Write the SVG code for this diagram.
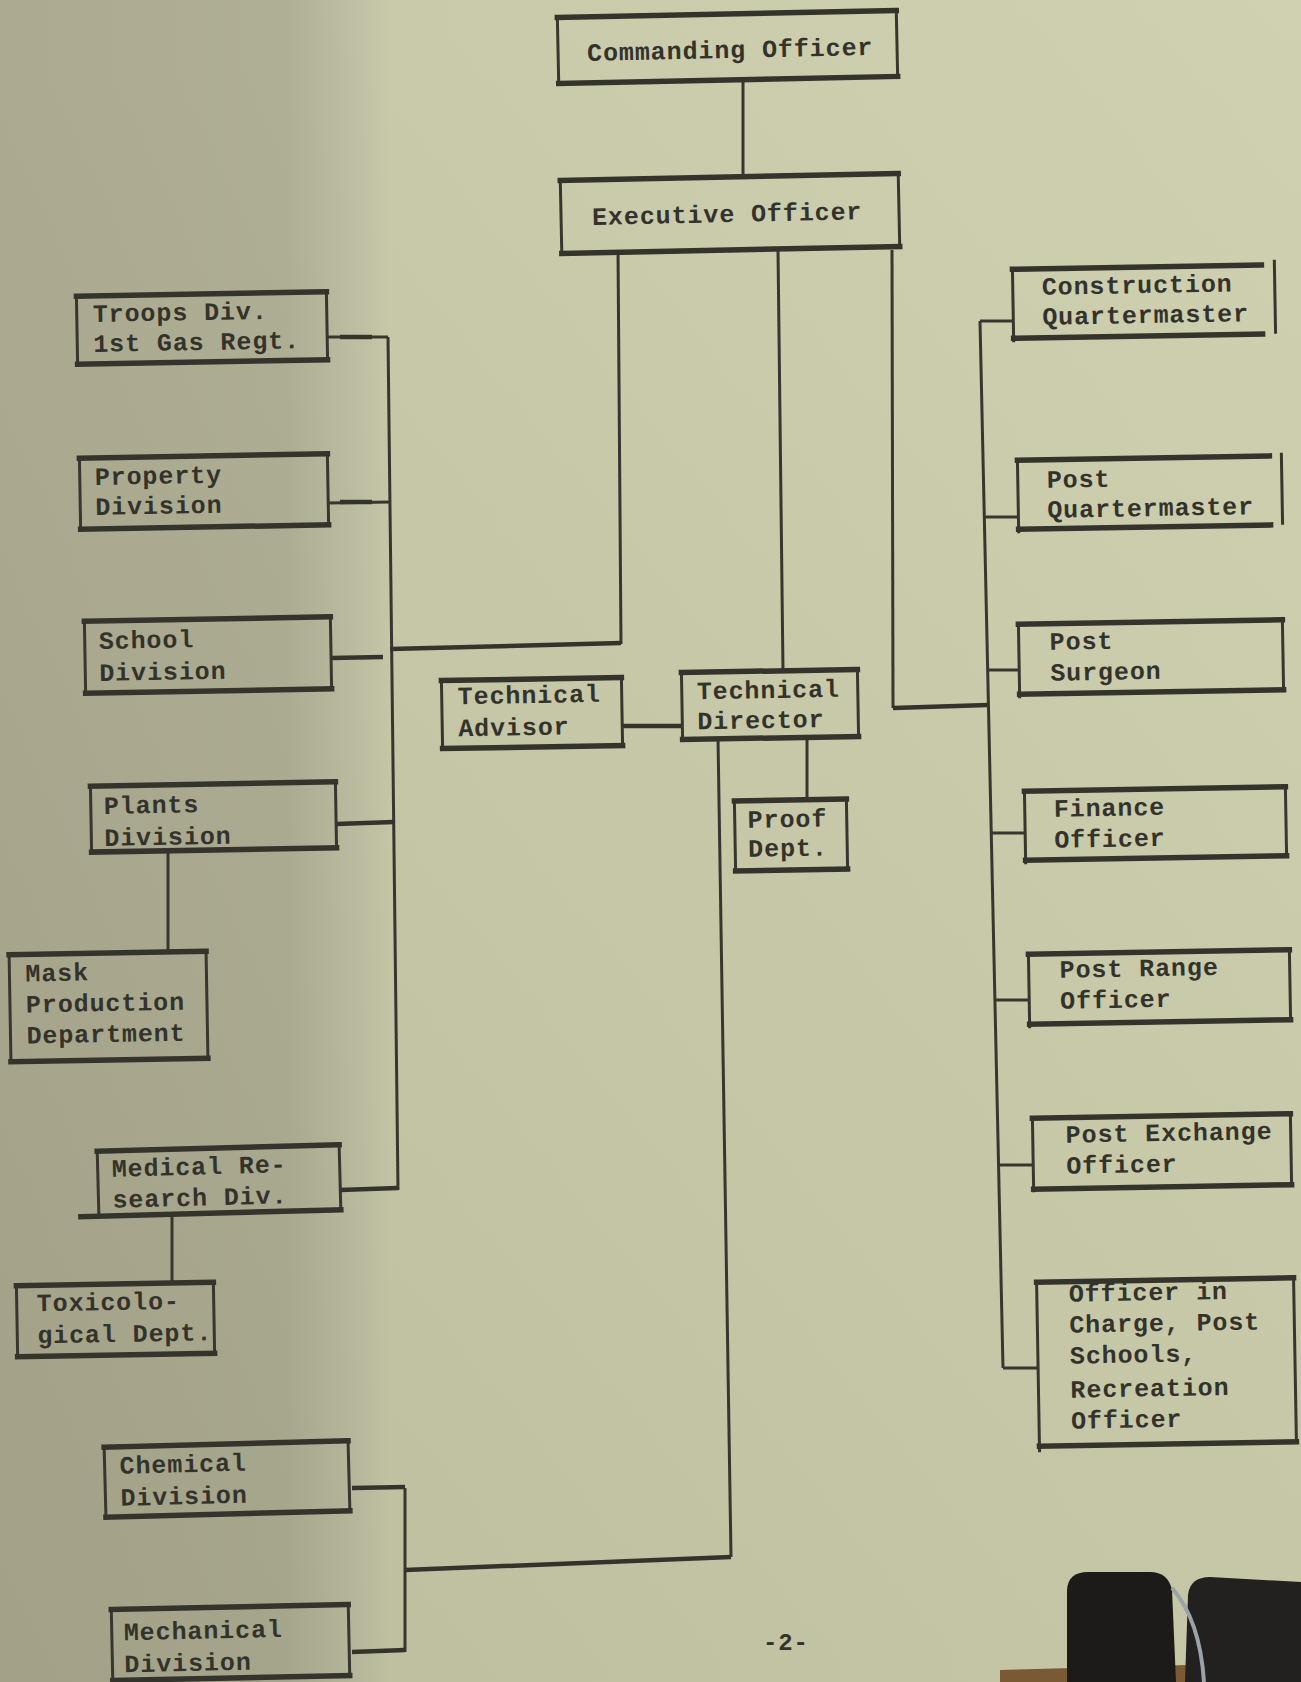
<svg xmlns="http://www.w3.org/2000/svg" width="1301" height="1682" viewBox="0 0 1301 1682">
<defs>
<linearGradient id="paper" x1="0" y1="0" x2="1" y2="0">
<stop offset="0" stop-color="#a9a88d"/>
<stop offset="0.22" stop-color="#acac91"/>
<stop offset="0.265" stop-color="#b9ba9d"/>
<stop offset="0.3" stop-color="#c6c8a7"/>
<stop offset="1" stop-color="#cdcfae"/>
</linearGradient>
<linearGradient id="vshade" x1="0" y1="0" x2="0" y2="1">
<stop offset="0" stop-color="#ffffff" stop-opacity="0.04"/>
<stop offset="1" stop-color="#000000" stop-opacity="0.04"/>
</linearGradient>
<style>
.side{fill:none;stroke:#38372f;stroke-width:3}
.edge{fill:none;stroke:#35342c;stroke-width:5.5;stroke-linecap:square}
.con{fill:none;stroke:#38372f;stroke-width:3}
.thick{fill:none;stroke:#35342c;stroke-width:4.5}
text{font-family:"Liberation Mono","DejaVu Sans Mono",monospace;font-weight:bold;font-size:25px;letter-spacing:0.9px;fill:#34332b}
</style>
</defs>
<rect x="0" y="0" width="1301" height="1682" fill="url(#paper)"/>
<rect x="0" y="0" width="1301" height="1682" fill="url(#vshade)"/>
<!-- desk and clip -->
<path d="M1000 1670 L1301 1662 L1301 1682 L1000 1682 Z" fill="#7a5a34"/>
<g id="clip">
<path d="M1067 1682 L1067 1590 Q1068 1572 1088 1572 L1150 1572 Q1168 1572 1172 1590 L1176 1682 Z" fill="#1c1b1a"/>
<path d="M1185 1682 L1188 1595 Q1190 1577 1210 1577 L1301 1582 L1301 1682 Z" fill="#222120"/>
<path d="M1172 1588 Q1200 1620 1204 1682" fill="none" stroke="#9aa3a8" stroke-width="4"/>
</g>

<g id="connectors">
<path class="con" d="M743 80 L743 177"/>
<path class="con" d="M618 250 L621 644"/>
<path class="thick" d="M621 643 L390 649"/>
<path class="con" d="M778 250 L783 671"/>
<path class="con" d="M892 250 L893 708"/>
<path class="thick" d="M893 708 L988 705"/>
<path class="con" d="M388 337 L398 1190"/>
<path class="con" d="M327 337 L388 337"/>
<path class="thick" d="M340 337 L372 337"/>
<path class="con" d="M328 503 L390 502"/>
<path class="thick" d="M340 502 L372 502"/>
<path class="thick" d="M331 658 L383 657"/>
<path class="thick" d="M336 824 L394 822"/>
<path class="thick" d="M340 1190 L398 1188"/>
<path class="con" d="M168 850 L168 953"/>
<path class="con" d="M172 1213 L172 1284"/>
<path class="thick" d="M622 726 L682 726"/>
<path class="con" d="M807 738 L807 800"/>
<path class="con" d="M718 738 L731 1557"/>
<path class="thick" d="M731 1557 L405 1570"/>
<path class="con" d="M405 1488 L405 1652"/>
<path class="thick" d="M352 1488 L405 1487"/>
<path class="thick" d="M352 1652 L405 1650"/>
<path class="con" d="M980 321 L1003 1368"/>
<path class="con" d="M980 321 L1013 321"/>
<path class="con" d="M984 517 L1018 517"/>
<path class="con" d="M988 670 L1019 670"/>
<path class="con" d="M991 833 L1025 833"/>
<path class="con" d="M995 1000 L1029 1000"/>
<path class="con" d="M998 1165 L1033 1165"/>
<path class="con" d="M1003 1368 L1038 1368"/>
</g>

<g id="commanding-officer" transform="rotate(-1.2 727 47)">
<path class="side" d="M558 14 L558 80 M897 14 L897 80"/>
<path class="edge" d="M558 14 L897 14 M558 80 L897 80"/>
<text x="587" y="58">Commanding Officer</text>
</g>
<g id="executive-officer" transform="rotate(-1.2 730 213)">
<path class="side" d="M561 177 L561 250 M899 177 L899 250"/>
<path class="edge" d="M561 177 L899 177 M561 250 L899 250"/>
<text x="592" y="222">Executive Officer</text>
</g>
<g id="troops-div" transform="rotate(-1 202 328)">
<path class="side" d="M77 294 L77 362 M327 294 L327 362"/>
<path class="edge" d="M77 294 L327 294 M77 362 L327 362"/>
<text x="93" y="320">Troops Div.</text>
<text x="93" y="350">1st Gas Regt.</text>
</g>
<g id="property-division" transform="rotate(-1 204 491)">
<path class="side" d="M80 456 L80 527 M328 456 L328 527"/>
<path class="edge" d="M80 456 L328 456 M80 527 L328 527"/>
<text x="95" y="483">Property</text>
<text x="95" y="513">Division</text>
</g>
<g id="school-division" transform="rotate(-1 208 655)">
<path class="side" d="M85 619 L85 691 M331 619 L331 691"/>
<path class="edge" d="M85 619 L331 619 M85 691 L331 691"/>
<text x="99" y="647">School</text>
<text x="99" y="679">Division</text>
</g>
<g id="plants-division" transform="rotate(-1 213 817)">
<path class="side" d="M91 784 L91 850 M336 784 L336 850"/>
<path class="edge" d="M91 784 L336 784 M91 850 L336 850"/>
<text x="104" y="812">Plants</text>
<text x="104" y="844">Division</text>
</g>
<g id="mask-production" transform="rotate(-1 108 1006)">
<path class="side" d="M10 953 L10 1060 M207 953 L207 1060"/>
<path class="edge" d="M10 953 L207 953 M10 1060 L207 1060"/>
<text x="26" y="980">Mask</text>
<text x="26" y="1011">Production</text>
<text x="26" y="1042">Department</text>
</g>
<g id="medical-research" transform="rotate(-1.5 219 1180)">
<path class="side" d="M98 1148 L98 1213 M340 1148 L340 1213"/>
<path class="edge" d="M98 1148 L340 1148 M80 1213 L340 1213"/>
<text x="112" y="1174">Medical Re-</text>
<text x="112" y="1205">search Div.</text>
</g>
<g id="toxicological-dept" transform="rotate(-1 115 1319)">
<path class="side" d="M17 1284 L17 1355 M214 1284 L214 1355"/>
<path class="edge" d="M17 1284 L214 1284 M17 1355 L214 1355"/>
<text x="37" y="1310">Toxicolo-</text>
<text x="37" y="1342">gical Dept.</text>
</g>
<g id="chemical-division" transform="rotate(-1.5 227 1479)">
<path class="side" d="M105 1444 L105 1514 M349 1444 L349 1514"/>
<path class="edge" d="M105 1444 L349 1444 M105 1514 L349 1514"/>
<text x="120" y="1471">Chemical</text>
<text x="120" y="1503">Division</text>
</g>
<g id="mechanical-division" transform="rotate(-1.2 230 1642)">
<path class="side" d="M112 1607 L112 1678 M349 1607 L349 1678"/>
<path class="edge" d="M112 1607 L349 1607 M112 1678 L349 1678"/>
<text x="124" y="1638">Mechanical</text>
<text x="124" y="1670">Division</text>
</g>
<g id="technical-advisor" transform="rotate(-1 532 713)">
<path class="side" d="M442 679 L442 747 M622 679 L622 747"/>
<path class="edge" d="M442 679 L622 679 M442 747 L622 747"/>
<text x="458" y="703">Technical</text>
<text x="458" y="735">Advisor</text>
</g>
<g id="technical-director" transform="rotate(-1 770 704)">
<path class="side" d="M682 671 L682 738 M858 671 L858 738"/>
<path class="edge" d="M682 671 L858 671 M682 738 L858 738"/>
<text x="697" y="698">Technical</text>
<text x="697" y="728">Director</text>
</g>
<g id="proof-dept" transform="rotate(-1 791 835)">
<path class="side" d="M735 800 L735 870 M847 800 L847 870"/>
<path class="edge" d="M735 800 L847 800 M735 870 L847 870"/>
<text x="748" y="827">Proof</text>
<text x="748" y="856">Dept.</text>
</g>
<g id="construction-quartermaster" transform="rotate(-1 1144 301)">
<path class="side" d="M1013 267 L1013 340 M1275 262 L1275 336"/>
<path class="edge" d="M1013 267 L1262 267 M1013 336 L1262 336"/>
<text x="1042" y="293">Construction</text>
<text x="1042" y="323">Quartermaster</text>
</g>
<g id="post-quartermaster" transform="rotate(-1 1150 492)">
<path class="side" d="M1018 458 L1018 531 M1282 455 L1282 527"/>
<path class="edge" d="M1018 458 L1270 458 M1018 527 L1270 527"/>
<text x="1047" y="486">Post</text>
<text x="1047" y="516">Quartermaster</text>
</g>
<g id="post-surgeon" transform="rotate(-1 1151 657)">
<path class="side" d="M1019 622 L1019 696 M1283 622 L1283 692"/>
<path class="edge" d="M1019 622 L1283 622 M1019 692 L1283 692"/>
<text x="1050" y="648">Post</text>
<text x="1050" y="679">Surgeon</text>
</g>
<g id="finance-officer" transform="rotate(-1 1155 823)">
<path class="side" d="M1025 789 L1025 862 M1286 789 L1286 858"/>
<path class="edge" d="M1025 789 L1286 789 M1025 858 L1286 858"/>
<text x="1054" y="815">Finance</text>
<text x="1054" y="846">Officer</text>
</g>
<g id="post-range-officer" transform="rotate(-1 1159 987)">
<path class="side" d="M1029 952 L1029 1026 M1290 952 L1290 1022"/>
<path class="edge" d="M1029 952 L1290 952 M1029 1022 L1290 1022"/>
<text x="1060" y="976">Post Range</text>
<text x="1060" y="1007">Officer</text>
</g>
<g id="post-exchange-officer" transform="rotate(-1 1162 1151)">
<path class="side" d="M1033 1116 L1033 1190 M1291 1116 L1291 1187"/>
<path class="edge" d="M1033 1116 L1291 1116 M1033 1187 L1291 1187"/>
<text x="1066" y="1141">Post Exchange</text>
<text x="1066" y="1172">Officer</text>
</g>
<g id="officer-in-charge" transform="rotate(-1 1166 1362)">
<path class="side" d="M1038 1280 L1038 1450 M1295 1280 L1295 1444"/>
<path class="edge" d="M1038 1280 L1295 1280 M1038 1444 L1295 1444"/>
<text x="1070" y="1300">Officer in</text>
<text x="1070" y="1331">Charge, Post</text>
<text x="1070" y="1362">Schools,</text>
<text x="1070" y="1396">Recreation</text>
<text x="1070" y="1427">Officer</text>
</g>
<text x="763" y="1650" style="font-size:24px">-2-</text>
</svg>
